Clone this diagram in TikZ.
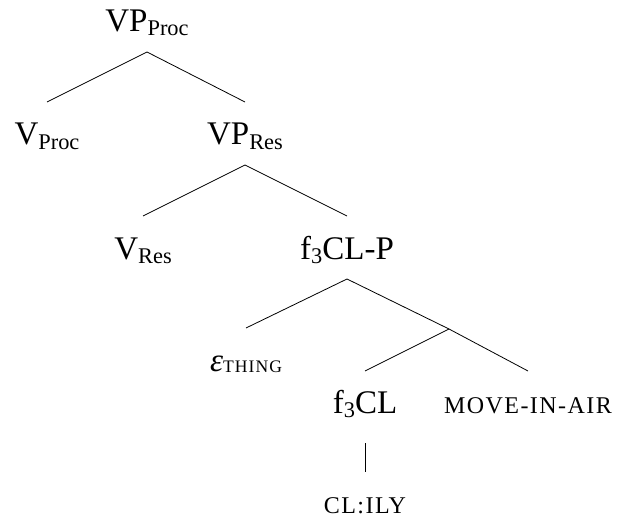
\documentclass[tikz,border=0pt]{standalone}
\usepackage{fontspec}
\setmainfont{Liberation Serif}
\usepackage{tikz}
\usetikzlibrary{positioning}

\newcommand{\lowsub}[1]{\raisebox{-2pt}{\fontsize{11.2}{12}\selectfont #1}}
\newcommand{\feat}[1]{{\fontsize{12}{13}\selectfont\addfontfeature{LetterSpace=6}#1}}
\newcommand{\featsub}[1]{\raisebox{-0.5pt}{\fontsize{8.8}{10}\selectfont\addfontfeature{LetterSpace=6}#1}}

\begin{document}
\begin{tikzpicture}[x=0.5pt,y=-0.5pt,
    cat/.style={anchor=base,inner sep=0pt,font=\fontsize{16.5}{20}\selectfont}]
    \useasboundingbox (0,0) rectangle (627,519);

    % Top projection
    \node[cat] (vpproc) at (147,32) {VP\lowsub{Proc}};
    \node[cat] (vproc) at (47,145) {V\lowsub{Proc}};
    \node[cat] (vpres) at (245,145) {VP\lowsub{Res}};

    % Result phrase
    \node[cat] (vres) at (143,259) {V\lowsub{Res}};
    \node[cat] (fclp) at (347,259) {f\lowsub{3}CL-P};

    % Classifier phrase
    \node[cat] (eps) at (246,371) {{\itshape ε}\featsub{THING}};
    \coordinate (br) at (449,329);
    \node[cat] (fcl) at (365,413) {f\lowsub{3}CL};
    \node[cat] (move) at (528,413) {\feat{MOVE-IN-AIR}};
    \node[cat] (clily) at (365,513) {\feat{CL:ILY}};

    % Branches
    \foreach \i/\j in {vpproc/vproc, vpproc/vpres, vpres/vres, vpres/fclp, fclp/eps} {
        \draw ([yshift=-10pt]\i.base) -- ([yshift=21.5pt]\j.base);
    }
    \draw ([yshift=-10pt]fclp.base) -- (br);
    \foreach \j in {fcl, move} {
        \draw (br) -- ([yshift=21pt]\j.base);
    }
    \draw ([yshift=-15pt]fcl.base) -- ([yshift=20.5pt]clily.base);
\end{tikzpicture}
\end{document}
